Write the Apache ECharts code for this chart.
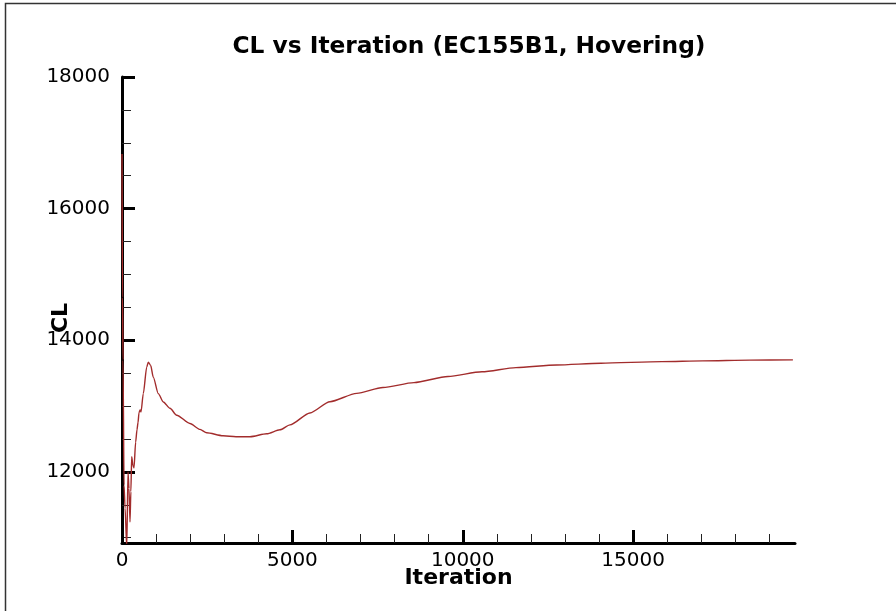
<!DOCTYPE html>
<html>
<head>
<meta charset="utf-8">
<script src="https://cdn.jsdelivr.net/npm/echarts@6/dist/echarts.min.js"></script>
<style>
  html, body { margin: 0; padding: 0; background: #ffffff; }
  #chart { width: 896px; height: 611px; }
</style>
</head>
<body>
<div id="chart"></div>
<script>
// Lift coefficient convergence history
const iterations = [
  0, 15, 30, 60, 90, 140, 176, 205, 235, 260, 285, 320, 352, 400, 440, 470,
  499, 530, 558, 625, 725, 772, 842, 918, 1065, 1212, 1408, 1605, 1995, 2289,
  2485, 2964, 3345, 3756, 4246, 4636, 4930, 5516, 6103, 6887, 7658, 8568,
  9566, 10563, 11561, 12755, 14052, 15845, 17042, 18427, 19689
];
const clValues = [
  16830, 14650, 13700, 11800, 11450, 10850, 12000, 11750, 11240, 11700, 12230, 12100, 12060, 12450, 12640, 12750,
  12900, 12940, 12910, 13190, 13590, 13668, 13618, 13440, 13190, 13063, 12967, 12862, 12736, 12646,
  12595, 12549, 12534, 12534, 12579, 12640, 12715, 12896, 13067, 13194, 13282, 13357,
  13450, 13522, 13584, 13625, 13651, 13676, 13687, 13698, 13702
];

// Axis ticks
const xMajorTicks = [0, 5000, 10000, 15000];
const xMinorTicks = [1000, 2000, 3000, 4000, 6000, 7000, 8000, 9000, 11000, 12000, 13000, 14000, 16000, 17000, 18000, 19000];
const yMajorTicks = [12000, 14000, 16000, 18000];
const yMinorTicks = [11000, 11500, 12500, 13000, 13500, 14500, 15000, 15500, 16500, 17000, 17500];

const X_MIN = 0, X_MAX = 19750;
const Y_MIN = 10920, Y_MAX = 18000;

const points = iterations.map((it, i) => [it, clValues[i]]);

const plain = (v) => String(Math.round(v));
const labelFont = { fontFamily: 'DejaVu Sans', fontSize: 20, color: '#000' };
const boldFont = { fontFamily: 'DejaVu Sans', fontWeight: 'bold', color: '#000' };

const chart = echarts.init(document.getElementById('chart'), null, { renderer: 'canvas' });

chart.setOption({
  animation: false,
  backgroundColor: '#ffffff',
  title: {
    text: 'CL vs Iteration (EC155B1, Hovering)',
    left: 464,
    top: 30,
    textAlign: 'center',
    textStyle: Object.assign({ fontSize: 23.3 }, boldFont)
  },
  grid: { left: 122, right: 101, top: 77, bottom: 68, containLabel: false },
  xAxis: [
    {
      type: 'value', min: X_MIN, max: X_MAX, position: 'bottom',
      name: 'Iteration', nameLocation: 'middle', nameGap: 24, nameMoveOverlap: false,
      nameTextStyle: Object.assign({ fontSize: 22 }, boldFont),
      axisLine: { show: true, onZero: false, lineStyle: { color: '#000', width: 3 } },
      axisTick: { show: true, inside: true, length: 13, customValues: xMajorTicks, lineStyle: { color: '#000', width: 3 } },
      axisLabel: Object.assign({ show: true, margin: 8, customValues: xMajorTicks, formatter: plain }, labelFont),
      splitLine: { show: false }
    },
    {
      type: 'value', min: X_MIN, max: X_MAX, position: 'bottom',
      axisLine: { show: false },
      axisTick: { show: true, inside: true, length: 9, customValues: xMinorTicks, lineStyle: { color: '#222', width: 1 } },
      axisLabel: { show: false },
      splitLine: { show: false }
    }
  ],
  yAxis: [
    {
      type: 'value', min: Y_MIN, max: Y_MAX, position: 'left',
      name: 'CL', nameLocation: 'middle', nameGap: 50, nameRotate: 90, nameMoveOverlap: false,
      nameTextStyle: Object.assign({ fontSize: 22, padding: [0, 16, 0, 0] }, boldFont),
      axisLine: { show: true, onZero: false, lineStyle: { color: '#000', width: 3 } },
      axisTick: { show: true, inside: true, length: 13, customValues: yMajorTicks, lineStyle: { color: '#000', width: 3 } },
      axisLabel: Object.assign({ show: true, margin: 12, customValues: yMajorTicks, formatter: plain }, labelFont),
      splitLine: { show: false }
    },
    {
      type: 'value', min: Y_MIN, max: Y_MAX, position: 'left',
      axisLine: { show: false },
      axisTick: { show: true, inside: true, length: 9, customValues: yMinorTicks, lineStyle: { color: '#222', width: 1 } },
      axisLabel: { show: false },
      splitLine: { show: false }
    }
  ],
  series: [
    {
      type: 'line',
      xAxisIndex: 0,
      yAxisIndex: 0,
      data: points,
      showSymbol: false,
      smooth: 0.25,
      smoothMonotone: 'x',
      clip: true,
      lineStyle: { color: '#a22c2c', width: 1.4 }
    }
  ],
  graphic: [
    {
      type: 'rect',
      silent: true,
      shape: { x: 5.5, y: 3.5, width: 1000, height: 1000 },
      style: { fill: null, stroke: '#333', lineWidth: 1.5 }
    }
  ]
});
</script>
</body>
</html>
